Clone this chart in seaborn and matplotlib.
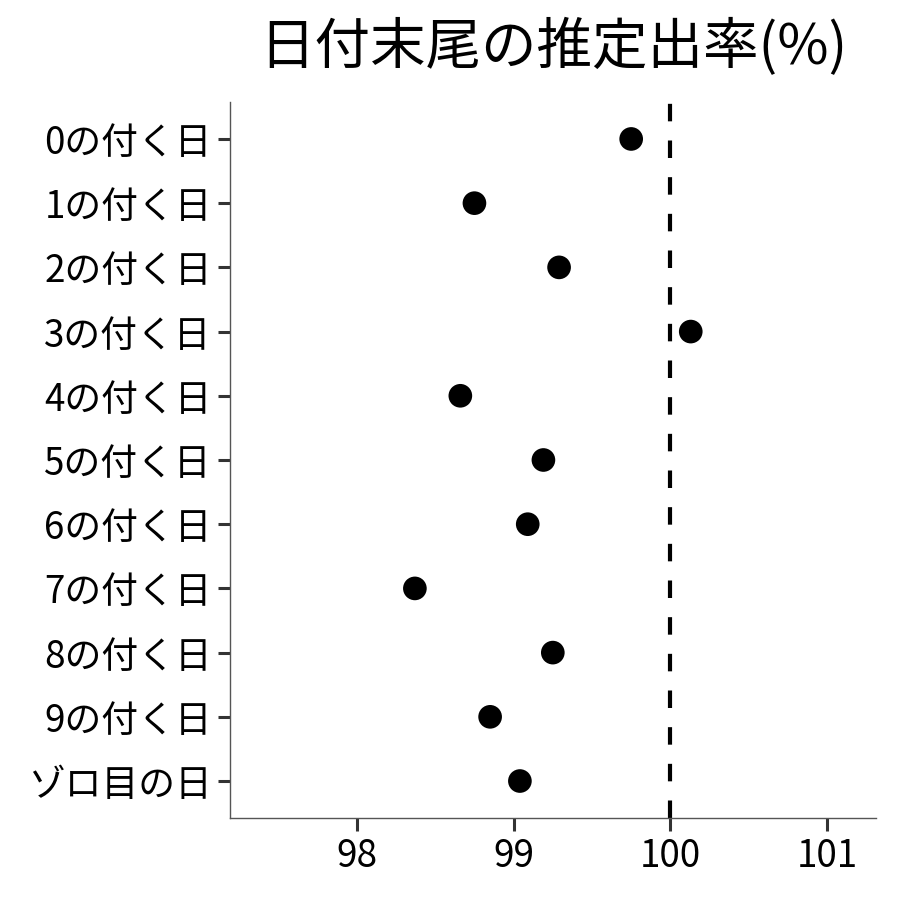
import matplotlib
matplotlib.use("Agg")
import matplotlib.pyplot as plt
import seaborn as sns
import pandas as pd

categories = ["0の付く日", "1の付く日", "2の付く日", "3の付く日", "4の付く日",
              "5の付く日", "6の付く日", "7の付く日", "8の付く日", "9の付く日", "ゾロ目の日"]
values = [99.75, 98.75, 99.29, 100.13, 98.66, 99.19, 99.09, 98.37, 99.25, 98.85, 99.04]
x_ticks = [98, 99, 100, 101]
title = "日付末尾の推定出率(%)"

sns.set_theme(style="white")
plt.rcParams['font.family'] = ['Noto Sans CJK JP', 'DejaVu Sans']

df = pd.DataFrame({"cat": categories, "val": values})

fig = plt.figure(figsize=(9, 9), dpi=100)
ax = fig.add_axes([0.256, 0.0911, 0.717, 0.7956])

ax.axvline(100, color="black", lw=3.0, linestyle=(0, (4.2, 4.6)), zorder=1)
sns.scatterplot(data=df, x="val", y="cat", ax=ax, color="black", s=290,
                edgecolor="none", zorder=3)

ax.set_xlim(97.193, 101.31)
ax.set_ylim(len(categories) - 1 + 0.576, -0.576)
ax.set_xticks(x_ticks)
ax.set_xticklabels([str(t) for t in x_ticks])
ax.set_xlabel("")
ax.set_ylabel("")

for s in ["top", "right"]:
    ax.spines[s].set_visible(False)
for s in ["left", "bottom"]:
    ax.spines[s].set_color("#555555")
    ax.spines[s].set_linewidth(1.0)

ax.tick_params(axis="both", which="major", length=9, width=2.2, color="#333333",
               labelsize=26.5, labelcolor="black", direction="out", pad=4.5)
ax.tick_params(left=True, bottom=True)

fig.text(0.6145, 0.947, title, ha="center", va="center", fontsize=40, color="black")

fig.savefig("out.png", dpi=100)
